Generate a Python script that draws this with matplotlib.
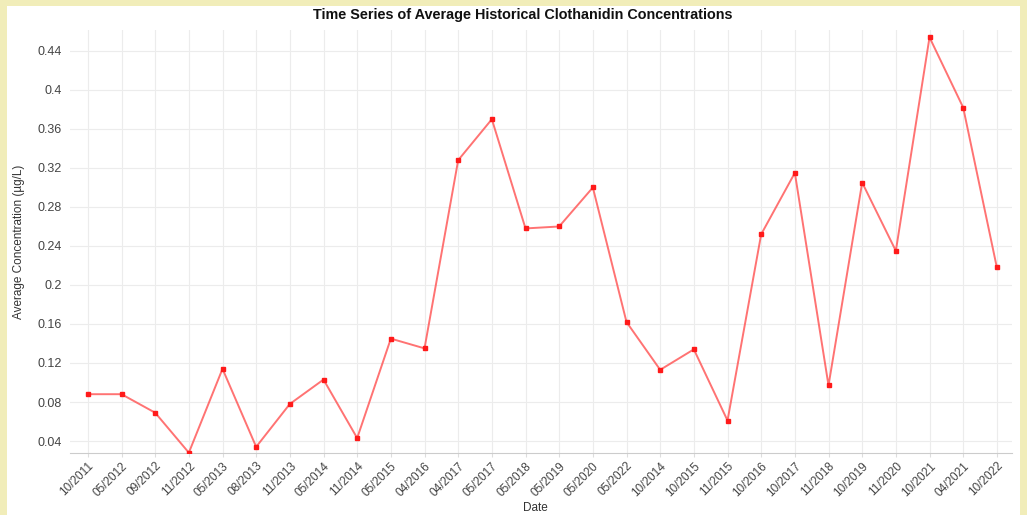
import matplotlib.pyplot as plt
from matplotlib.patches import Rectangle

plt.rcParams["font.family"] = ["Liberation Sans", "DejaVu Sans"]

dates = ["10/2011", "05/2012", "09/2012", "11/2012", "05/2013", "08/2013", "11/2013",
         "05/2014", "11/2014", "05/2015", "04/2016", "04/2017", "05/2017", "05/2018",
         "05/2019", "05/2020", "05/2022", "10/2014", "10/2015", "11/2015", "10/2016",
         "10/2017", "11/2018", "10/2019", "11/2020", "10/2021", "04/2021", "10/2022"]
conc = [0.088, 0.088, 0.069, 0.028, 0.114, 0.034, 0.078,
        0.103, 0.043, 0.145, 0.135, 0.328, 0.370, 0.258,
        0.260, 0.300, 0.162, 0.113, 0.134, 0.061, 0.252,
        0.315, 0.097, 0.305, 0.235, 0.454, 0.382, 0.218]
yticks = [0.04, 0.08, 0.12, 0.16, 0.2, 0.24, 0.28, 0.32, 0.36, 0.4, 0.44]
ytick_labels = ["0.04", "0.08", "0.12", "0.16", "0.2", "0.24", "0.28", "0.32", "0.36", "0.4", "0.44"]

fig = plt.figure(figsize=(10.27, 5.15), dpi=100)
fig.patch.set_facecolor("#f1edb9")
fig.patches.append(Rectangle((7 / 1027, 0), 1013 / 1027, 1 - 6 / 515,
                             transform=fig.transFigure, facecolor="white",
                             edgecolor="none", zorder=-10))

ax = fig.add_axes([70 / 1027, 1 - 453 / 515, 942 / 1027, 423 / 515])
ax.set_facecolor("white")
x = list(range(len(dates)))
ax.plot(x, conc, color="#ff5a5a", linewidth=1.4, alpha=0.85, zorder=3)
ax.plot(x, conc, "s", color="#ff1a1a", markersize=3, zorder=4)

ax.set_xlim(-0.53, 27.45)
ax.set_ylim(0.0277, 0.4615)
ax.set_xticks(x)
ax.set_xticklabels(dates, rotation=45, ha="right", rotation_mode="anchor",
                   fontsize=8.5, color="#444444")
ax.set_yticks(yticks)
ax.set_yticklabels(ytick_labels, fontsize=9, color="#444444")
ax.grid(True, color="#ececec", linewidth=0.8)
ax.set_axisbelow(True)
for s in ["top", "right", "left"]:
    ax.spines[s].set_visible(False)
ax.spines["bottom"].set_color("#cccccc")
ax.tick_params(axis="y", length=0, pad=6)
ax.tick_params(axis="x", length=3, color="#dddddd", pad=2)

ax.set_ylabel("Average Concentration (µg/L)", fontsize=8.5, color="#333333", labelpad=9)
fig.text(535 / 1027, 1 - 508 / 515, "Date", fontsize=8.5, color="#333333",
         ha="center", va="center")
fig.text(523 / 1027, 1 - 15 / 515, "Time Series of Average Historical Clothanidin Concentrations",
         fontsize=10.4, fontweight="bold", ha="center", va="center", color="#111111")

fig.savefig("out.png", dpi=100, facecolor=fig.get_facecolor())
